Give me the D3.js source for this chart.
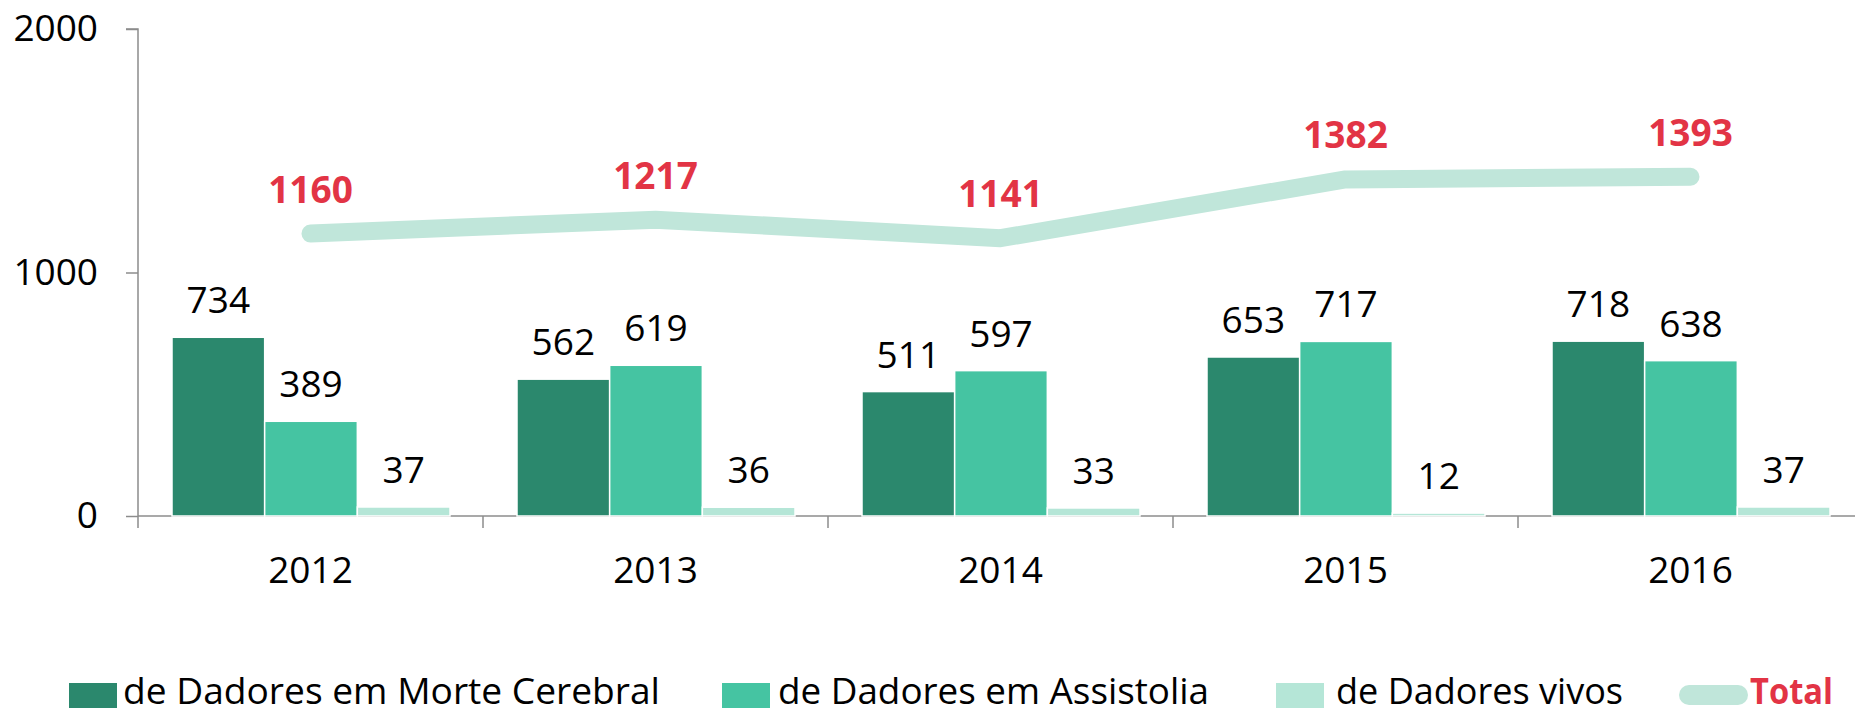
<!DOCTYPE html>
<html>
<head>
<meta charset="utf-8">
<script src="https://cdn.jsdelivr.net/npm/d3@7"></script>
<style>
  body { margin: 0; background: #fff; }
  text { font-family: "Open Sans", sans-serif; }
</style>
</head>
<body>
<div id="d3-container"></div>
<script>
/* DATA */
const years = ["2012", "2013", "2014", "2015", "2016"];
const series = ["de Dadores em Morte Cerebral", "de Dadores em Assistolia", "de Dadores vivos"];
const morteCerebral = [734, 562, 511, 653, 718];
const assistolia = [389, 619, 597, 717, 638];
const vivos = [37, 36, 33, 12, 37];
const totals = [1160, 1217, 1141, 1382, 1393];
const yTicks = [0, 1000, 2000];

/* CONSTANTS */
const width = 1855,
  height = 714,
  margin = { top: 29, bottom: 198, left: 138, right: -8 };

const colors = ["#2b886d", "#45c4a2", "#b5e6d7"];
const lineColor = "#c0e6da";
const red = "#e23445";

const values = [morteCerebral, assistolia, vivos];

const svg = d3.select("#d3-container")
  .append("svg")
  .attr("width", width)
  .attr("height", height);

// SCALES
const xScale = d3.scaleBand()
  .domain(years)
  .range([margin.left, width - margin.right]);

const xInner = d3.scaleBand()
  .domain(series)
  .range([34, xScale.bandwidth() - 33]);

const yScale = d3.scaleLinear()
  .domain([0, 2000])
  .range([height - margin.bottom, margin.top]);

// AXES
const yAxis = d3.axisLeft(yScale)
  .tickValues(yTicks)
  .tickSize(12)
  .tickPadding(28)
  .tickFormat(d3.format("d"));

svg.append("g")
  .attr("class", "yAxis")
  .attr("transform", `translate(${margin.left}, 0)`)
  .call(yAxis)
  .call(g => g.select(".domain").attr("d", `M-12,${yScale(2000)}H0V${yScale(0) + 12}`))
  .call(g => g.selectAll("path, line").attr("stroke", "#8c8c8c").attr("stroke-width", 1.5))
  .call(g => g.selectAll("text").attr("font-size", 37).attr("fill", "#000")
    .attr("font-family", "Open Sans"));

// x axis: line with ticks at category boundaries
const xAxisG = svg.append("g").attr("class", "xAxis");
xAxisG.append("line")
  .attr("x1", margin.left).attr("x2", width)
  .attr("y1", yScale(0)).attr("y2", yScale(0))
  .attr("stroke", "#8c8c8c").attr("stroke-width", 1.5);

xAxisG.selectAll(".bound")
  .data(years.slice(1))
  .join("line")
  .attr("class", "bound")
  .attr("x1", d => xScale(d)).attr("x2", d => xScale(d))
  .attr("y1", yScale(0)).attr("y2", yScale(0) + 12)
  .attr("stroke", "#8c8c8c").attr("stroke-width", 1.5);

xAxisG.selectAll(".ylabel")
  .data(years)
  .join("text")
  .attr("class", "ylabel")
  .attr("x", d => xScale(d) + xScale.bandwidth() / 2)
  .attr("y", 583)
  .attr("text-anchor", "middle")
  .attr("font-size", 37)
  .text(d => d);

// BARS
const groups = svg.selectAll(".year")
  .data(years)
  .join("g")
  .attr("class", "year")
  .attr("transform", d => `translate(${xScale(d)}, 0)`);

const barData = (d, i) => series.map((s, j) => ({ s, j, v: values[j][i] }));

groups.selectAll("rect")
  .data(barData)
  .join("rect")
  .attr("x", d => xInner(d.s))
  .attr("width", xInner.bandwidth())
  .attr("y", d => yScale(d.v))
  .attr("height", d => yScale(0) - yScale(d.v))
  .attr("fill", d => colors[d.j])
  .attr("stroke", "#fff")
  .attr("stroke-width", 1.5);

groups.selectAll(".val")
  .data(barData)
  .join("text")
  .attr("class", "val")
  .attr("x", d => xInner(d.s) + xInner.bandwidth() / 2)
  .attr("y", d => yScale(d.v) - 24)
  .attr("text-anchor", "middle")
  .attr("font-size", 37)
  .text(d => d.v);

// TOTAL LINE
const cx = d => xScale(d) + xScale.bandwidth() / 2;

const line = d3.line()
  .x((d, i) => cx(years[i]))
  .y(d => yScale(d));

svg.append("path")
  .datum(totals)
  .attr("d", line)
  .attr("fill", "none")
  .attr("stroke", lineColor)
  .attr("stroke-width", 18)
  .attr("stroke-linecap", "round")
  .attr("stroke-linejoin", "round");

svg.selectAll(".total")
  .data(totals)
  .join("text")
  .attr("class", "total")
  .attr("x", (d, i) => cx(years[i]))
  .attr("y", d => yScale(d) - 31)
  .attr("text-anchor", "middle")
  .attr("font-size", 37)
  .attr("font-weight", "bold")
  .attr("fill", red)
  .text(d => d);

// LEGEND (sits low, right at the bottom edge like the original)
const legendY = 704;
const swatchX = [69, 722, 1276];
const textX = [123, 778, 1336];
const textW = [537, 431, 287];

const legend = svg.append("g").attr("class", "legend");

series.forEach((s, i) => {
  legend.append("rect")
    .attr("x", swatchX[i]).attr("y", 683)
    .attr("width", 48).attr("height", 25)
    .attr("fill", colors[i]);
  legend.append("text")
    .attr("x", textX[i]).attr("y", legendY)
    .attr("font-size", 36)
    .attr("textLength", textW[i])
    .attr("lengthAdjust", "spacingAndGlyphs")
    .text(s);
});

legend.append("line")
  .attr("x1", 1689).attr("x2", 1738)
  .attr("y1", 695).attr("y2", 695)
  .attr("stroke", lineColor)
  .attr("stroke-width", 20)
  .attr("stroke-linecap", "round");

legend.append("text")
  .attr("x", 1750).attr("y", legendY)
  .attr("font-size", 36)
  .attr("font-weight", "bold")
  .attr("fill", red)
  .attr("textLength", 83)
  .attr("lengthAdjust", "spacingAndGlyphs")
  .text("Total");
</script>
</body>
</html>
